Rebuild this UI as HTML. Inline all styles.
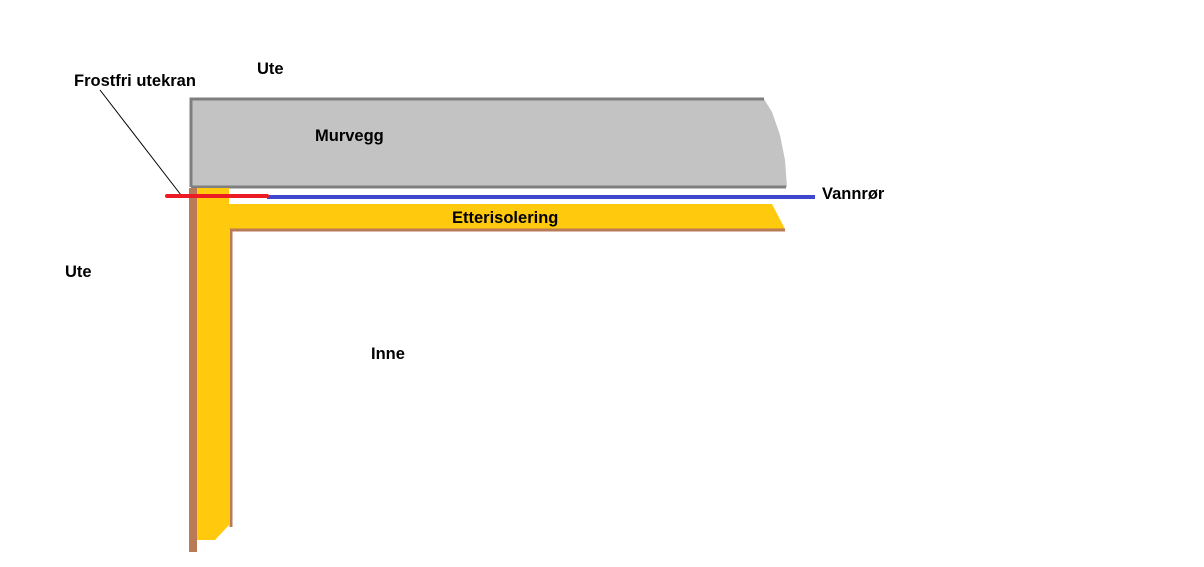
<!DOCTYPE html>
<html><head><style>
body{margin:0;background:#fff;}
svg text{font-family:"Liberation Sans",sans-serif;font-weight:bold;font-size:16.5px;fill:#000;}
</style></head><body>
<svg width="1204" height="562" viewBox="0 0 1204 562">
<path d="M191,99 L764,99 L772,112 L780,135 L785,160 L787,187 L191,187 Z" fill="#c3c3c3"/>
<path d="M191,187 L191,99 L764,99" fill="none" stroke="#7f7f7f" stroke-width="3"/>
<line x1="191" y1="187" x2="786" y2="187" stroke="#7f7f7f" stroke-width="3"/>
<path d="M197,188 L229,188 L229,204 L772,204 L785,229 L229,229 L229,525 L215,540 L197,540 Z" fill="#ffc90e"/>
<path d="M231,527 L231,230 L785,230" fill="none" stroke="#b97a57" stroke-width="3"/>
<rect x="189" y="188" width="8" height="364" fill="#b97a57"/>
<line x1="100" y1="90" x2="181" y2="195" stroke="#000" stroke-width="1"/>
<line x1="267" y1="197" x2="815" y2="197" stroke="#3f48cc" stroke-width="4"/>
<line x1="167" y1="196" x2="267" y2="196" stroke="#ed1c24" stroke-width="4" stroke-linecap="round"/>
<text x="74" y="86">Frostfri utekran</text>
<text x="257" y="74">Ute</text>
<text x="315" y="141">Murvegg</text>
<text x="822" y="199">Vannrør</text>
<text x="452" y="223">Etterisolering</text>
<text x="65" y="277">Ute</text>
<text x="371" y="359">Inne</text>
</svg>
</body></html>
